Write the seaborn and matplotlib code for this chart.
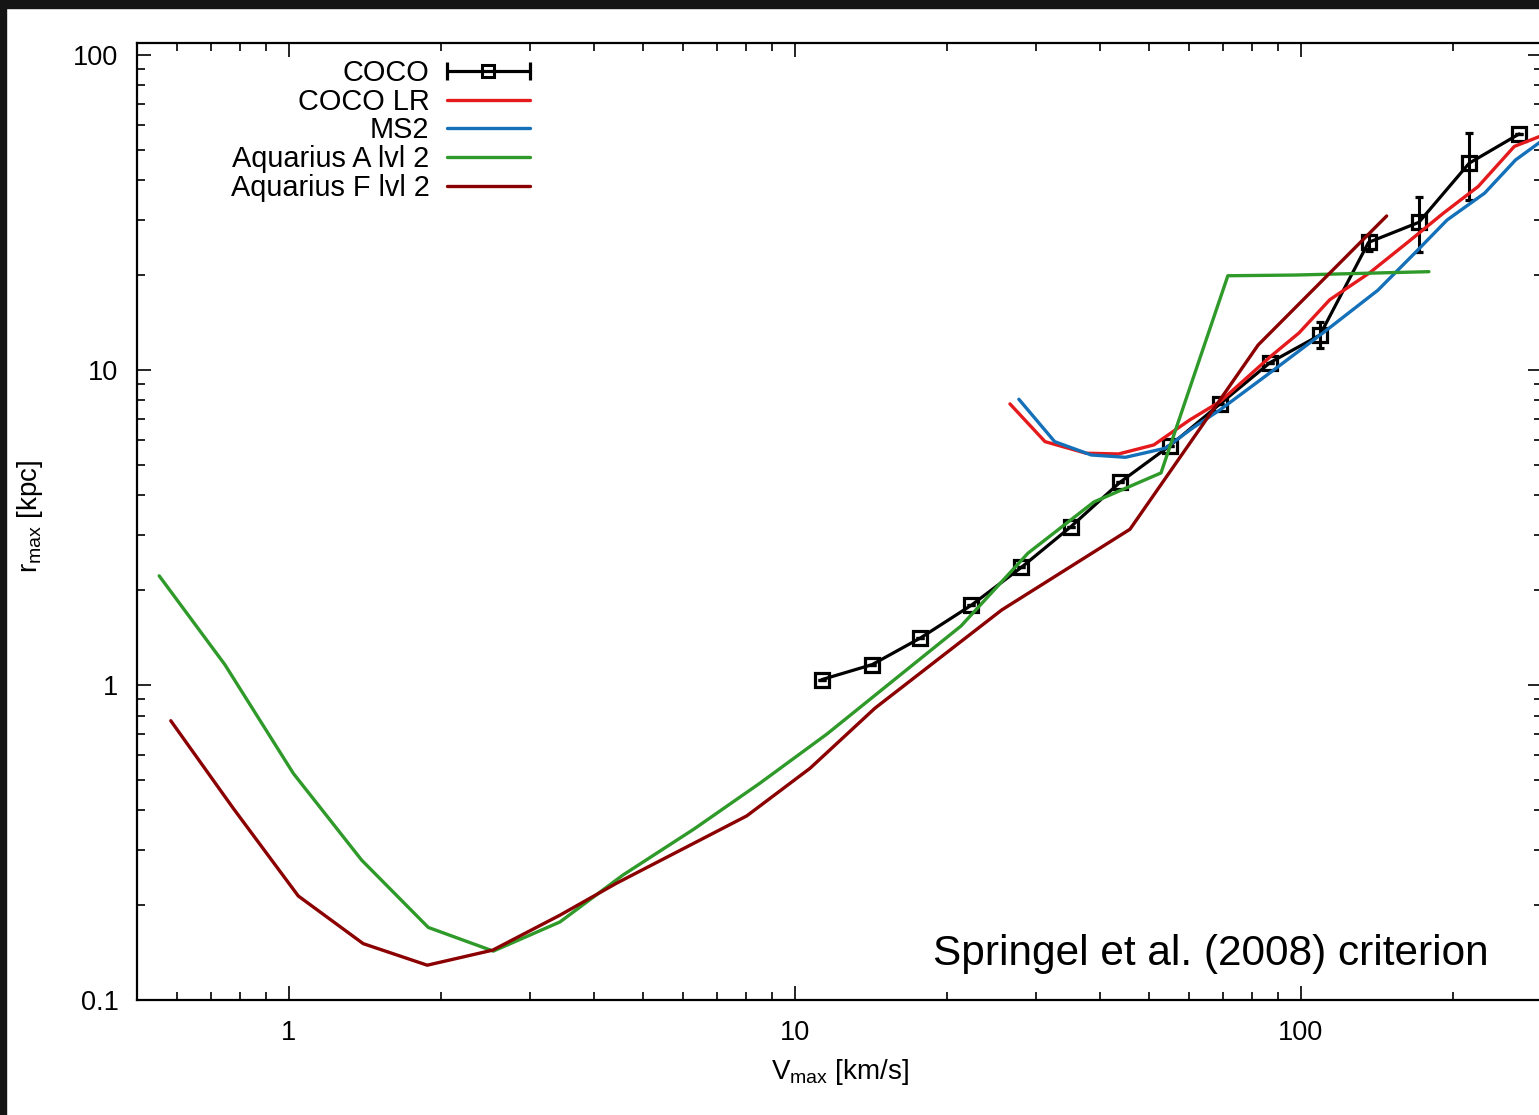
import matplotlib
matplotlib.use('Agg')
import matplotlib.pyplot as plt
import matplotlib.ticker as ticker
from matplotlib.lines import Line2D
from matplotlib.patches import Rectangle
from matplotlib.legend_handler import HandlerLine2D
import seaborn as sns

# COCO (with error bars)
coco_vmax = [11.3, 14.2, 17.7, 22.3, 28.0, 35.1, 43.9, 55.1, 69.2, 86.9, 109, 136, 171, 215, 270]
coco_rmax = [1.04, 1.16, 1.41, 1.79, 2.36, 3.18, 4.40, 5.75, 7.80, 10.55, 12.9, 25.4, 29.4, 45.3, 56.1]
coco_rlow = [1.04, 1.16, 1.41, 1.79, 2.36, 3.18, 4.40, 5.75, 7.80, 10.55, 11.7, 23.9, 23.6, 34.5, 56.1]
coco_rhigh = [1.04, 1.16, 1.41, 1.79, 2.36, 3.18, 4.40, 5.75, 7.80, 10.55, 14.2, 26.8, 35.3, 56.4, 56.1]

# COCO LR
lr_vmax = [26.6, 31.2, 37.6, 43.6, 51.2, 60.3, 69.2, 86.9, 99.1, 114, 136.5, 163.5, 191, 224, 264, 300]
lr_rmax = [7.80, 5.92, 5.44, 5.41, 5.78, 6.94, 7.93, 11.0, 13.1, 16.7, 20.3, 25.6, 31.4, 38.2, 51.2, 55.5]

# MS2
ms2_vmax = [27.7, 32.6, 38.5, 45.0, 53.9, 61.0, 69.2, 87.5, 110.5, 141.9, 168.8, 194.4, 230.7, 265.6, 300]
ms2_rmax = [8.07, 5.92, 5.37, 5.28, 5.64, 6.53, 7.47, 9.88, 13.1, 17.9, 23.7, 29.9, 36.4, 46.4, 53.5]

# Aquarius A lvl 2
aqa_vmax = [0.554, 0.747, 1.020, 1.392, 1.885, 2.534, 3.433, 4.566, 6.317, 8.528, 11.57, 15.69,
            21.29, 28.87, 38.98, 52.89, 71.7, 97.3, 132, 179]
aqa_rmax = [2.22, 1.16, 0.524, 0.278, 0.170, 0.143, 0.177, 0.249, 0.349, 0.488, 0.699, 1.037,
            1.539, 2.62, 3.81, 4.71, 19.9, 20.0, 20.25, 20.5]

# Aquarius F lvl 2
aqf_vmax = [0.584, 0.776, 1.043, 1.402, 1.876, 2.527, 3.433, 4.443, 8.027, 10.71, 14.39, 25.62,
            45.92, 82.3, 147.7]
aqf_rmax = [0.770, 0.406, 0.214, 0.151, 0.129, 0.144, 0.186, 0.235, 0.384, 0.544, 0.844, 1.73,
            3.12, 12.0, 30.8]

legend_labels = ['COCO', 'COCO LR', 'MS2', 'Aquarius A lvl 2', 'Aquarius F lvl 2']
line_colors = ['#e41a1c', '#1470b8', '#2f9a2a', '#8b0000']

sns.set_style('ticks')
plt.rcParams['font.family'] = ['Liberation Sans', 'DejaVu Sans']
plt.rcParams['mathtext.fontset'] = 'custom'
plt.rcParams['mathtext.rm'] = 'Liberation Sans'
plt.rcParams['text.color'] = 'black'
plt.rcParams['axes.labelcolor'] = 'black'
plt.rcParams['xtick.color'] = 'black'
plt.rcParams['ytick.color'] = 'black'

fig = plt.figure(figsize=(15.39, 11.15), dpi=100)
fig.patch.set_facecolor('white')
ax = fig.add_axes([0.0888, 0.1031, 0.9134, 0.8583])

# COCO with error bars
lo = [m - l for m, l in zip(coco_rmax, coco_rlow)]
hi = [h - m for m, h in zip(coco_rmax, coco_rhigh)]
ax.errorbar(coco_vmax, coco_rmax, yerr=[lo, hi], color='black', lw=2.3, marker='s', ms=9.5,
            mfc='none', mec='black', mew=2.3, capsize=2.6, capthick=2.4, elinewidth=2.2, zorder=2)

# other curves
for xs, ys, c in [(lr_vmax, lr_rmax, line_colors[0]), (ms2_vmax, ms2_rmax, line_colors[1]),
                  (aqa_vmax, aqa_rmax, line_colors[2]), (aqf_vmax, aqf_rmax, line_colors[3])]:
    sns.lineplot(x=xs, y=ys, ax=ax, color=c, lw=2.4, sort=False, estimator=None, zorder=3)

ax.set_xscale('log')
ax.set_yscale('log')
ax.set_xlim(0.5, 300)
ax.set_ylim(0.1, 109)

fmt = ticker.FuncFormatter(lambda v, p: f'{v:g}')
ax.xaxis.set_major_formatter(fmt)
ax.yaxis.set_major_formatter(fmt)
ax.xaxis.set_minor_formatter(ticker.NullFormatter())
ax.yaxis.set_minor_formatter(ticker.NullFormatter())
ax.tick_params(which='both', direction='in', top=True, right=True, colors='black', width=1.2)
ax.tick_params(which='major', length=10, labelsize=19.5)
ax.tick_params(axis='x', which='major', pad=14.5)
ax.tick_params(axis='y', which='major', pad=13)
ax.tick_params(which='minor', length=5.5)
for s in ax.spines.values():
    s.set_linewidth(1.6)
    s.set_color('black')

ax.set_xlabel('V$_{\\mathregular{max}}$ [km/s]', fontsize=20)
ax.set_ylabel('r$_{\\mathregular{max}}$ [kpc]', fontsize=20)
ax.xaxis.set_label_coords(0.5, -0.059)
ax.yaxis.set_label_coords(-0.065, 0.505)

# legend, gnuplot style (text on the left, sample on the right)
caps = Line2D([], [], color='black', lw=2.3, marker='|', markersize=13, markeredgewidth=2.3)
sq = Line2D([], [], color='black', ls='none', marker='s', markersize=8, mfc='none', mew=2.2)
handles = [(caps, sq)] + [Line2D([], [], color=c, lw=2.4) for c in line_colors]
ax.legend(handles, legend_labels,
          handler_map={caps: HandlerLine2D(numpoints=2, marker_pad=0), sq: HandlerLine2D(numpoints=1)},
          markerfirst=False, frameon=False, loc='upper right', bbox_to_anchor=(0.2795, 0.983),
          fontsize=20.8, handlelength=2.87, handletextpad=0.59, labelspacing=0.02,
          borderpad=0, borderaxespad=0)

ax.text(0.962, 0.0366, 'Springel et al. (2008) criterion', transform=ax.transAxes,
        ha='right', va='baseline', fontsize=30.5)

# dark border strips at top and left
fig.patches.append(Rectangle((0, 1 - 8 / 1115), 1, 8 / 1115, transform=fig.transFigure,
                             color='#151515', zorder=0))
fig.patches.append(Rectangle((0, 0), 6 / 1539, 1, transform=fig.transFigure,
                             color='#151515', zorder=0))

fig.savefig('out.png', dpi=100)
